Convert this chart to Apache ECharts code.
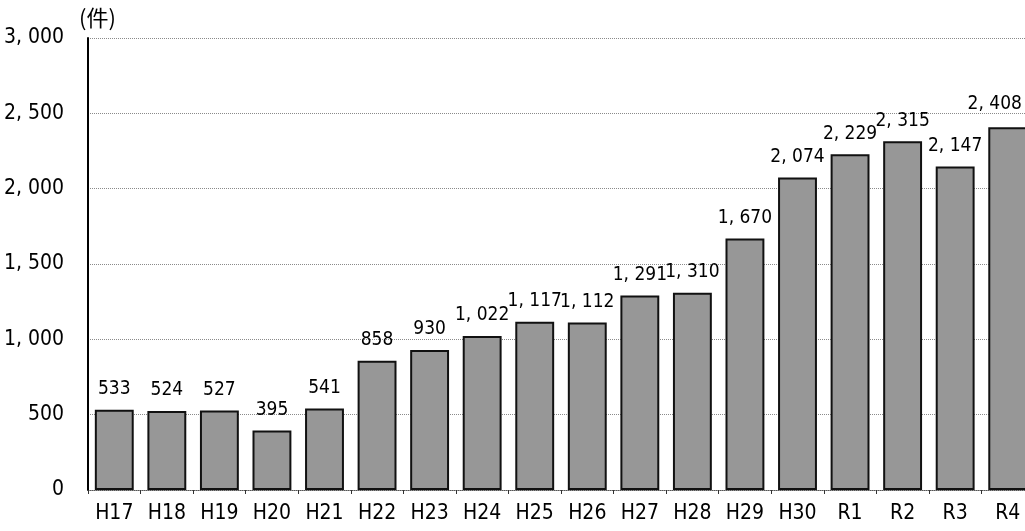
<!DOCTYPE html>
<html>
<head>
<meta charset="utf-8">
<script src="https://cdn.jsdelivr.net/npm/echarts@6/dist/echarts.min.js"></script>
<style>html,body{margin:0;padding:0;background:#fff;overflow:hidden}#c{width:1040px;height:531px}</style>
</head>
<body>
<div id="c"></div>
<script>
const categories = ['H17','H18','H19','H20','H21','H22','H23','H24','H25','H26','H27','H28','H29','H30','R1','R2','R3','R4'];
const values = [533,524,527,395,541,858,930,1022,1117,1112,1291,1310,1670,2074,2229,2315,2147,2408];
const yTicks = [0,500,1000,1500,2000,2500,3000];
const unitLabel = '(件)';

const fmt = v => {
  const s = String(v);
  return s.length > 3 ? s.slice(0, s.length - 3) + ', ' + s.slice(s.length - 3) : s;
};
const cond = '"DejaVu Sans Condensed", "DejaVu Sans", sans-serif';

// keep the last label inside the visible window (as in the reference)
const barData = values.map((v, i) => i === values.length - 1
  ? { value: v, label: { show: true, position: 'top', distance: 14, padding: [0, 26, 0, 0] } }
  : v);

const chart = echarts.init(document.getElementById('c'));
chart.setOption({
  animation: false,
  backgroundColor: '#fff',
  grid: { left: 88, top: 38, width: 946, height: 452, containLabel: false },
  xAxis: {
    type: 'category',
    data: categories,
    axisLine: { show: true, lineStyle: { color: '#555', type: 'dotted', width: 1 } },
    axisTick: { show: true, length: 4, lineStyle: { color: '#333' } },
    axisLabel: { interval: 0, color: '#000', fontFamily: cond, fontSize: 21, margin: 13 }
  },
  yAxis: {
    type: 'value',
    min: 0, max: 3000, interval: 500,
    name: unitLabel,
    nameLocation: 'end',
    nameGap: 9,
    nameTextStyle: { color: '#000', fontFamily: '"Noto Sans CJK JP", sans-serif', fontSize: 22, align: 'left', padding: [0, 0, 0, -9] },
    axisLine: { show: true, lineStyle: { color: '#000', width: 2 } },
    axisTick: { show: false },
    axisLabel: {
      color: '#000', fontFamily: cond, fontSize: 21, margin: 24,
      formatter: v => yTicks.includes(v) ? fmt(v) : ''
    },
    splitLine: { show: true, lineStyle: { color: '#8a8a8a', type: 'dotted', width: 1 } }
  },
  series: [{
    type: 'bar',
    data: barData,
    barWidth: '74%',
    itemStyle: { color: '#979797', borderColor: '#111', borderWidth: 2 },
    label: {
      show: true, position: 'top', distance: 11,
      color: '#000', fontFamily: cond, fontSize: 19,
      formatter: p => fmt(p.value)
    },
    labelLayout: { hideOverlap: false }
  }]
});
</script>
</body>
</html>
